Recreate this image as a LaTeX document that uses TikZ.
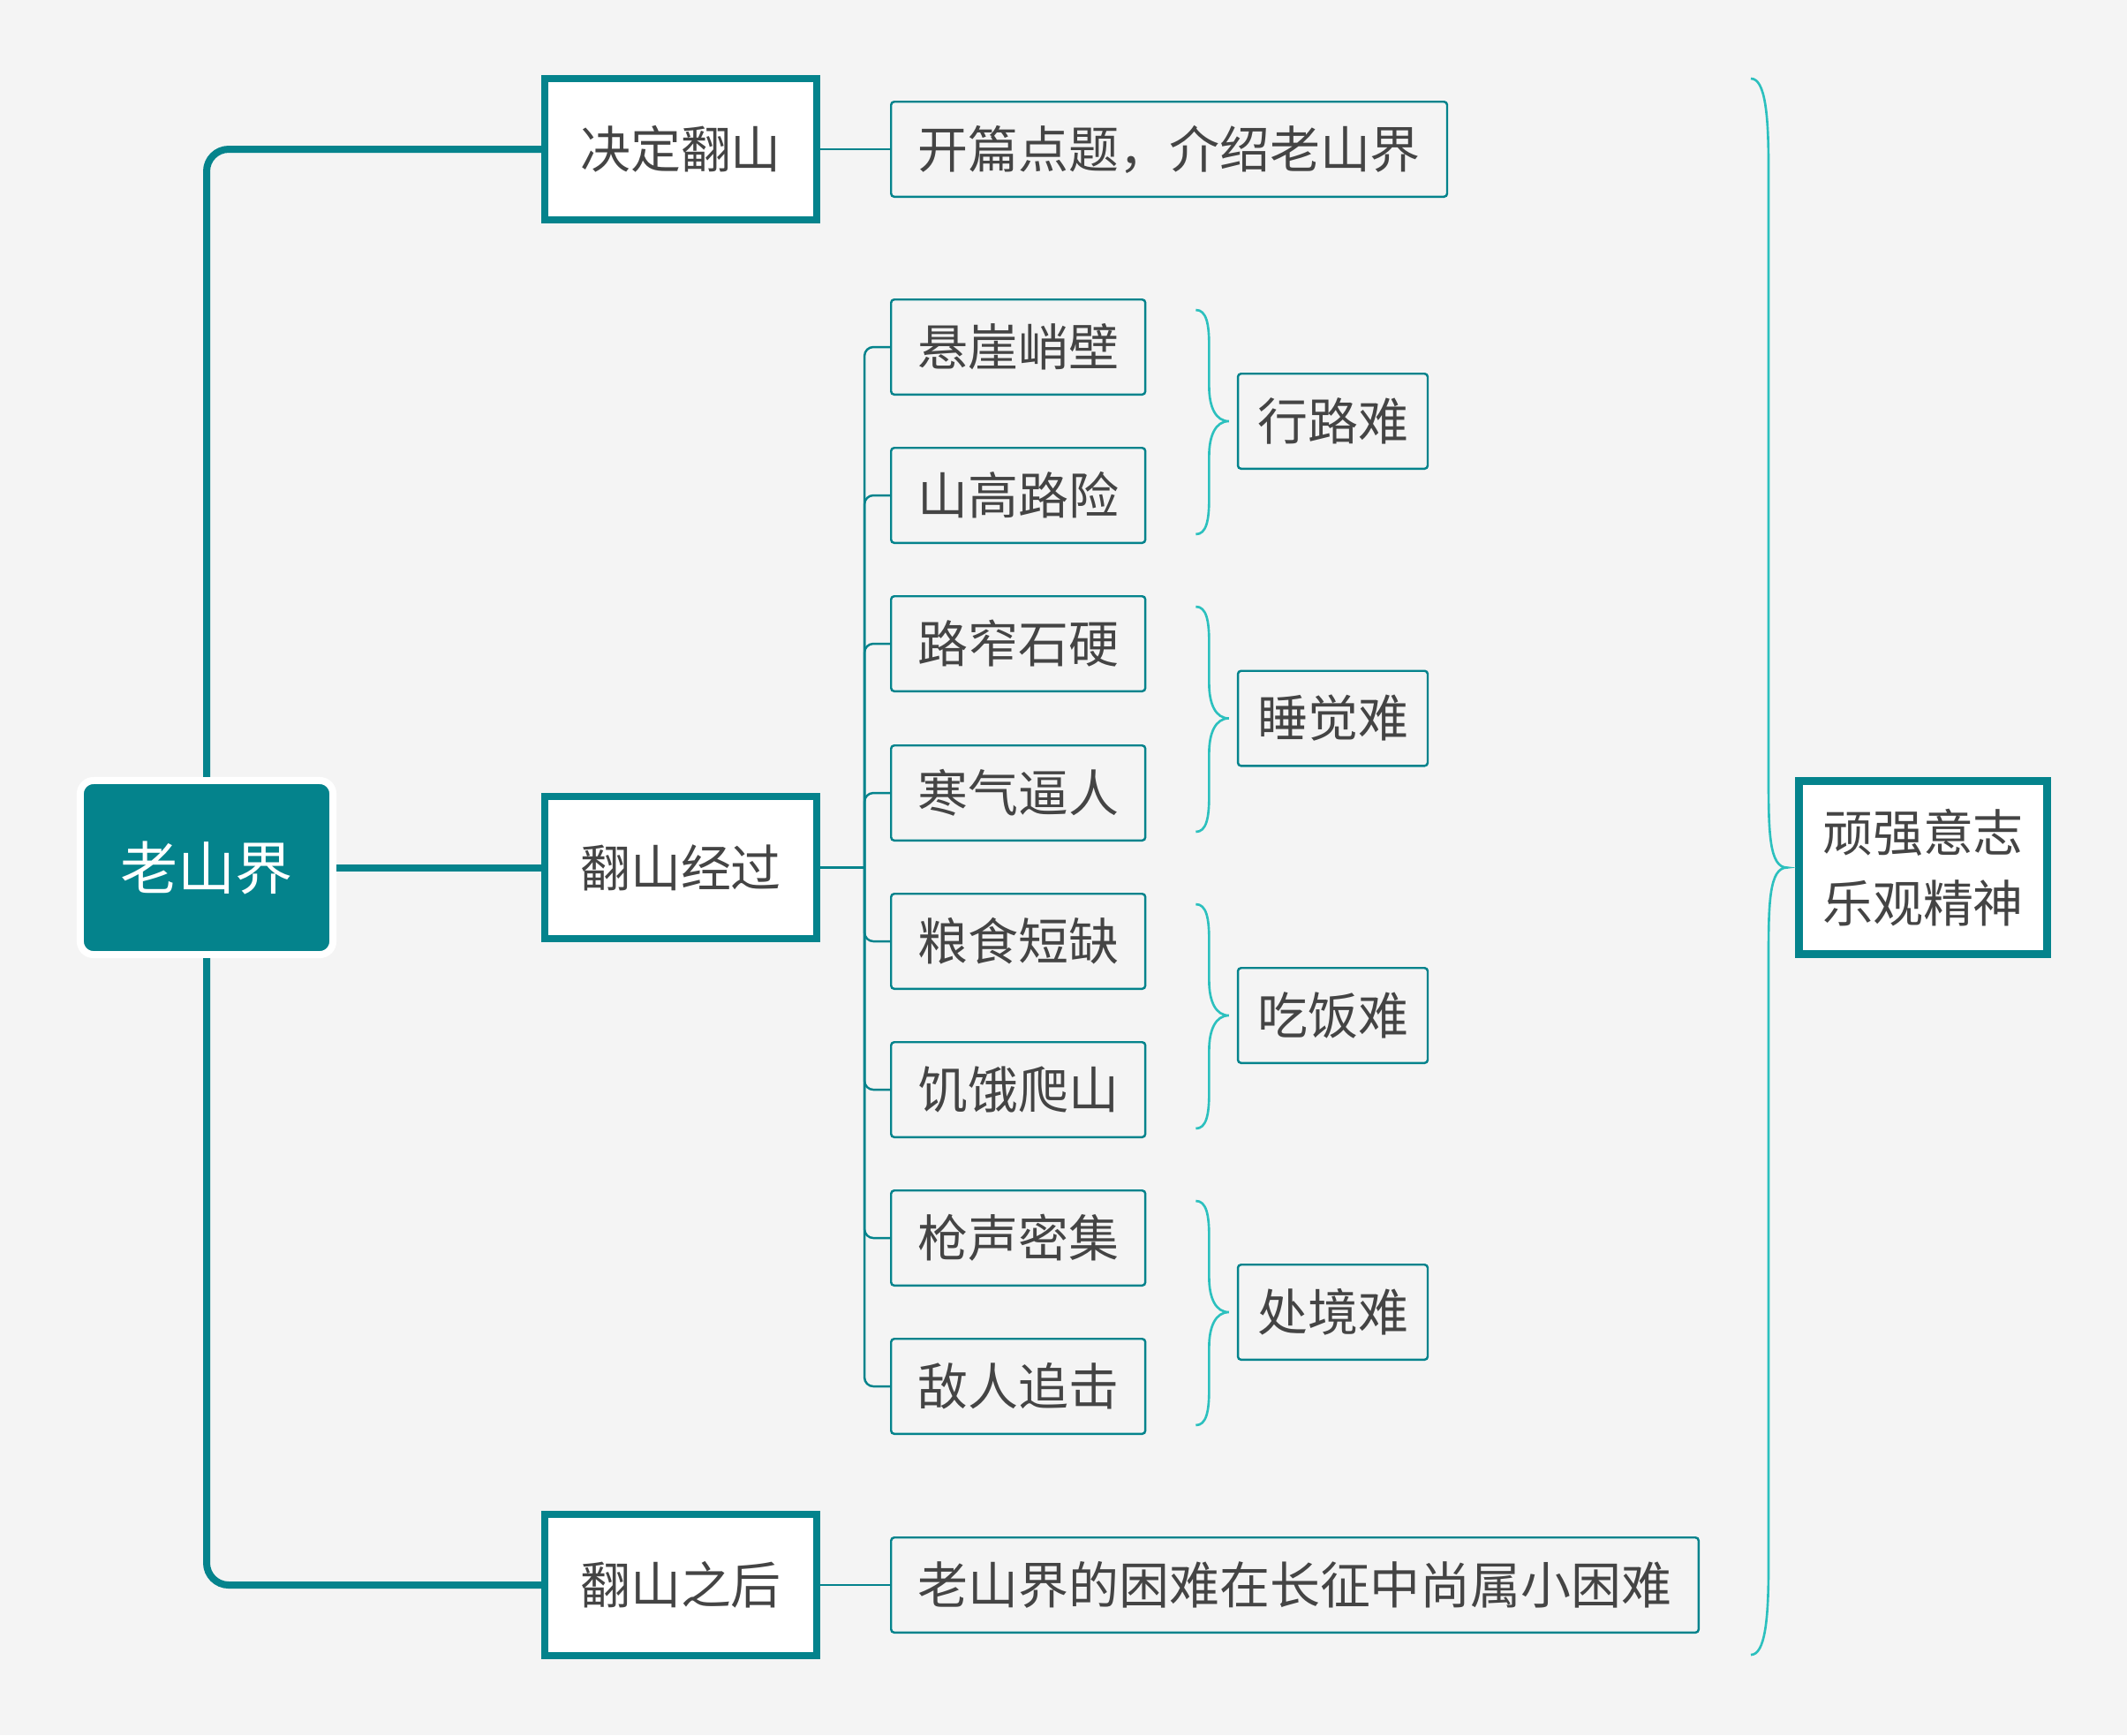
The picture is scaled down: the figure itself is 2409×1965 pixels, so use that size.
\documentclass[tikz,border=0pt]{standalone}
\usepackage{fontspec}
\newfontfamily\cjk{Noto Sans CJK SC}
\usetikzlibrary{calc}
\definecolor{mapteal}{RGB}{4,131,140}
\definecolor{bracecyan}{RGB}{44,192,190}
\definecolor{inkgray}{RGB}{68,68,68}
\definecolor{paper}{RGB}{244,244,244}
% curly brace: top, bottom, tip, dx, dy
\newcommand\curly[5]{%
  \coordinate (ca) at ($(#1)+(#4,#5)$);
  \coordinate (cb) at ($(#1 |- #3)+(#4,-#5)$);
  \coordinate (cc) at ($(#1 |- #3)+(#4,#5)$);
  \coordinate (cd) at ($(#2)+(#4,-#5)$);
  \draw[bracelink] (#1) .. controls +(0.8*#4,0) and +(0,-0.6*#5) .. (ca) -- (cb)
    .. controls +(0,0.6*#5) and +(-#4,0) .. (#3)
    .. controls +(-#4,0) and +(0,-0.6*#5) .. (cc) -- (cd)
    .. controls +(0,0.6*#5) and +(0.8*#4,0) .. (#2);}
\begin{document}
\begin{tikzpicture}[x=0.01cm, y=-0.01cm, font=\cjk\fontsize{16.2pt}{22pt}\selectfont, text=inkgray]
  \tikzstyle{rootnode}=[fill=mapteal, draw=white, line width=0.08cm, rounded corners=0.15cm,
    minimum width=2.86cm, minimum height=1.97cm, inner sep=0pt, text=white,
    font=\cjk\fontsize{18.5pt}{22pt}\selectfont]
  \tikzstyle{topicnode}=[fill=white, draw=mapteal, line width=0.08cm,
    minimum width=3.08cm, minimum height=1.6cm, inner sep=0pt]
  \tikzstyle{leafnode}=[draw=mapteal, line width=0.7pt, rounded corners=1pt,
    minimum height=1.075cm, inner xsep=0.3cm, inner ysep=0pt]
  \tikzstyle{hardnode}=[leafnode, inner xsep=0.22cm]
  \tikzstyle{spiritnode}=[fill=white, draw=mapteal, line width=0.09cm, align=center,
    minimum width=2.81cm, minimum height=1.96cm, inner sep=0pt,
    font=\cjk\fontsize{16.2pt}{22.8pt}\selectfont]
  \tikzstyle{mainlink}=[draw=mapteal, line width=0.08cm]
  \tikzstyle{sublink}=[draw=mapteal, line width=0.7pt]
  \tikzstyle{bracelink}=[draw=bracecyan, line width=0.75pt]

  \fill[paper] (0,0) rectangle (2409,1965);
  \useasboundingbox (0,0) rectangle (2409,1965);

  \node[rootnode] (laoshan) at (234,982.5) {老山界};
  \node[topicnode] (decide) at (771,169) {决定翻山};
  \node[topicnode] (cross) at (771,982.5) {翻山经过};
  \node[topicnode] (after) at (771,1795) {翻山之后};

  \node[leafnode, anchor=west] (intro) at (1008,169) {开篇点题，介绍老山界};
  \node[leafnode, anchor=west] (compare) at (1008,1795) {老山界的困难在长征中尚属小困难};
  \foreach \name/\txt/\y in {cliff/悬崖峭壁/393, steep/山高路险/561,
      narrow/路窄石硬/729, cold/寒气逼人/898, food/粮食短缺/1066,
      hunger/饥饿爬山/1234, gunfire/枪声密集/1402, chase/敌人追击/1570}
    \node[leafnode, anchor=west] (\name) at (1008,\y) {\txt};

  \node[hardnode] (walkhard) at (1509.5,477) {行路难};
  \node[hardnode] (sleephard) at (1509.5,813.5) {睡觉难};
  \node[hardnode] (eathard) at (1509.5,1150) {吃饭难};
  \node[hardnode] (situhard) at (1509.5,1486) {处境难};

  \node[spiritnode] (spirit) at (2178,982.5) {顽强意志\\乐观精神};

  % main branches
  \draw[mainlink, rounded corners=0.25cm] (laoshan.north) |- (decide.west);
  \draw[mainlink] (laoshan.east) -- (cross.west);
  \draw[mainlink, rounded corners=0.25cm] (laoshan.south) |- (after.west);

  % sub branches
  \draw[sublink] (decide.east) -- (intro.west);
  \draw[sublink] (after.east) -- (compare.west);
  \coordinate (fork) at ($(cross.east)+(50,0)$);
  \draw[sublink] (cross.east) -- (fork);
  \foreach \name in {cliff,steep,narrow,cold,food,hunger,gunfire,chase}
    \draw[sublink, rounded corners=0.1cm] (fork) |- (\name.west);

  % braces
  \foreach \a/\b/\h [count=\i] in {cliff/steep/walkhard, narrow/cold/sleephard,
      food/hunger/eathard, gunfire/chase/situhard} {
    \coordinate (top\i) at ($(\a.north east)+(56,13)$);
    \coordinate (bot\i) at ($(\b.south east)+(56,-11)$);
    \coordinate (tip\i) at ($(\h.west)+(-9,0)$);
    \curly{top\i}{bot\i}{tip\i}{15}{40}
  }
  \coordinate (bigtop) at (1983,89);
  \coordinate (bigbot) at (1983,1874);
  \coordinate (bigtip) at ($(spirit.west)+(-9,0)$);
  \curly{bigtop}{bigbot}{bigtip}{20}{100}
\end{tikzpicture}
\end{document}
